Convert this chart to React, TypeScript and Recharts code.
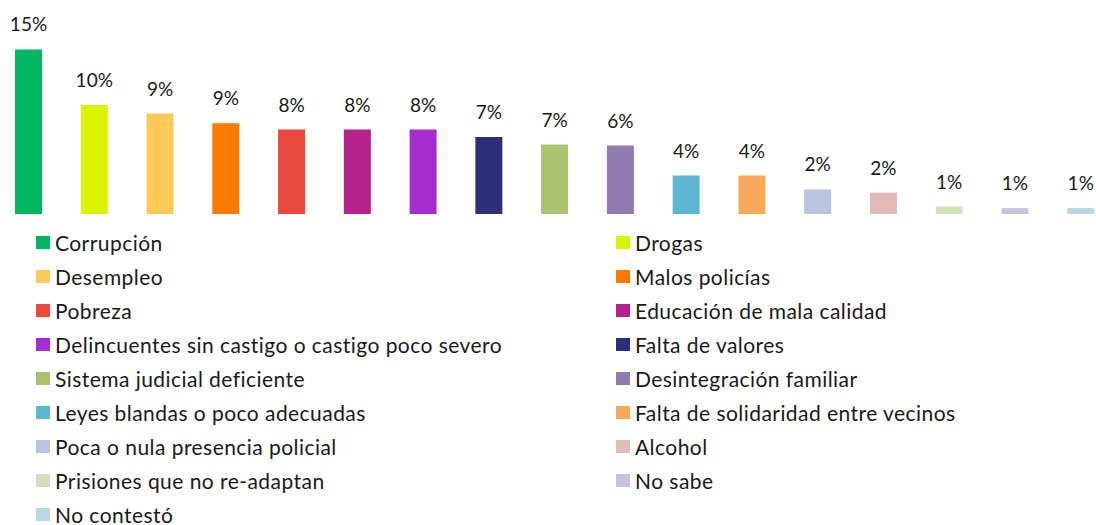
import { Bar, BarChart, Cell, LabelList, XAxis, YAxis } from 'recharts'

const categories = [
  'Corrupción',
  'Drogas',
  'Desempleo',
  'Malos policías',
  'Pobreza',
  'Educación de mala calidad',
  'Delincuentes sin castigo o castigo poco severo',
  'Falta de valores',
  'Sistema judicial deficiente',
  'Desintegración familiar',
  'Leyes blandas o poco adecuadas',
  'Falta de solidaridad entre vecinos',
  'Poca o nula presencia policial',
  'Alcohol',
  'Prisiones que no re-adaptan',
  'No sabe',
  'No contestó',
]

const values = [15.4, 10.2, 9.4, 8.5, 7.9, 7.9, 7.9, 7.2, 6.5, 6.4, 3.6, 3.6, 2.3, 2.0, 0.7, 0.55, 0.55]

const colors = [
  '#00B75F',
  '#DAF400',
  '#FFCA58',
  '#FF7B00',
  '#EB493E',
  '#B5228B',
  '#A72CD2',
  '#2D3079',
  '#ABC36F',
  '#927BB1',
  '#5CB8D2',
  '#F9A95A',
  '#B9C6E0',
  '#E3BAB8',
  '#D3E0BC',
  '#CAC2DB',
  '#B7D8E4',
]

const data = categories.map((name, i) => ({ name, value: values[i] }))

const font = 'Lato, "Open Sans", sans-serif'

export default function App() {
  return (
    <div
      style={{
        position: 'fixed',
        left: 0,
        top: 0,
        width: 1096,
        height: 525,
        overflow: 'hidden',
        background: '#fff',
        fontFamily: font,
      }}
    >
      <div style={{ position: 'absolute', left: -4, top: 0 }}>
        <BarChart width={1118} height={525} data={data} margin={{ top: 43, right: 0, left: 0, bottom: 311 }}>
          <XAxis dataKey="name" hide />
          <YAxis hide domain={[0, 16]} />
          <Bar dataKey="value" barSize={27} isAnimationActive={false}>
            {data.map((d, i) => (
              <Cell key={d.name} fill={colors[i]} />
            ))}
            <LabelList
              dataKey="value"
              position="top"
              offset={18}
              formatter={(v: any) => `${Math.round(Number(v))}%`}
              style={{ fill: '#1a1a1a', fontSize: 19, fontFamily: font }}
            />
          </Bar>
        </BarChart>
      </div>
      <div
        style={{
          position: 'absolute',
          left: 36,
          top: 225.5,
          display: 'grid',
          gridTemplateColumns: '580px 460px',
          gridAutoRows: '34px',
        }}
      >
        {categories.map((name, i) => (
          <div key={name} style={{ display: 'flex', alignItems: 'center', height: 34 }}>
            <span style={{ width: 14, height: 13, background: colors[i], marginRight: 5, flexShrink: 0 }} />
            <span
              style={{ fontSize: 21, lineHeight: '20px', letterSpacing: 0.45, color: '#1a1a1a', whiteSpace: 'nowrap' }}
            >
              {name}
            </span>
          </div>
        ))}
      </div>
    </div>
  )
}
